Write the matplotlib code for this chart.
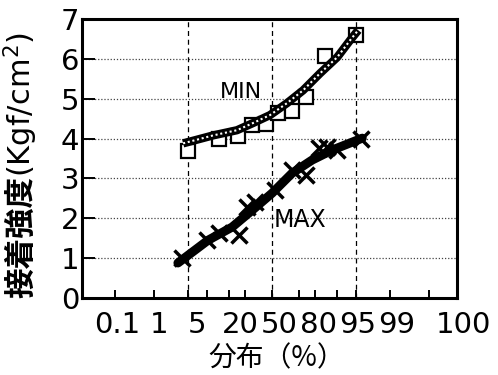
from statistics import NormalDist
import numpy as np
import matplotlib
matplotlib.use("Agg")
import matplotlib.pyplot as plt
import matplotlib.transforms as mtransforms

plt.rcParams['font.family'] = ['DejaVu Sans', 'Noto Sans CJK JP']

# cumulative percentage (%) and strength (Kgf/cm2)
min_pct = [5, 15, 25, 35, 45, 55, 65, 75, 85, 95]
min_val = [3.68, 3.98, 4.06, 4.34, 4.36, 4.64, 4.69, 5.04, 6.07, 6.59]
min_fit_pct = [4.0, 12.3, 24.5, 35.4, 48.4, 61.6, 72.9, 82.8, 90.0, 93.8, 95.5]
min_fit_val = [3.88, 4.08, 4.21, 4.39, 4.59, 4.89, 5.21, 5.64, 6.04, 6.47, 6.72]

max_pct = [3.8, 10, 15, 26, 31, 37, 52, 65, 75, 82, 86, 90, 96]
max_val = [1.0, 1.45, 1.63, 1.58, 2.28, 2.40, 2.72, 3.20, 3.08, 3.76, 3.78, 3.72, 4.0]
max_fit_pct = [3.2, 10.4, 21.6, 34.7, 50, 65.3, 78.4, 88.1, 96.2]
max_fit_val = [0.88, 1.45, 1.78, 2.20, 2.63, 3.13, 3.46, 3.71, 4.01]

tick_pct = [0.1, 1, 5, 10, 20, 30, 50, 70, 80, 90, 95, 99, 99.9]
label_pct = [0.1, 1, 5, 20, 50, 80, 95, 99, 99.9]
label_txt = ['0.1', '1', '5', '20', '50', '80', '95', '99', '100']
label_shift = [2, 5, 9, 11, 7, 4, 2, 6, 34]  # px, as drawn in the original
vgrid_pct = [5, 50, 95]

ND = NormalDist()


def prob_fwd(p):
    p = np.clip(np.asarray(p, dtype=float) / 100.0, 1e-12, 1 - 1e-12)
    return np.vectorize(ND.inv_cdf, otypes=[float])(p)


def prob_inv(z):
    return 100.0 * np.vectorize(ND.cdf, otypes=[float])(np.asarray(z, dtype=float))


fig = plt.figure(figsize=(4.98, 3.75), dpi=100)
ax = fig.add_axes([0.1647, 0.2053, 0.753, 0.744])
ax.set_xscale('function', functions=(prob_fwd, prob_inv))
ax.set_xlim(prob_inv(-3.74), prob_inv(3.64))
ax.set_ylim(0, 7)

# grid
for y in range(1, 7):
    ax.axhline(y, color='#444444', lw=0.9, ls=(0, (1, 1.5)), zorder=1)
for p in vgrid_pct:
    ax.axvline(p, color='black', lw=0.9, ls=(0, (4, 3)), zorder=1)

# MIN
ax.plot(min_pct, min_val, ls='none', marker='s', ms=10.5, mfc='white', mec='black',
        mew=1.6, zorder=3)
ax.plot(min_fit_pct, min_fit_val, color='black', lw=6, solid_capstyle='butt', zorder=4)
ax.plot(min_fit_pct, min_fit_val, color='white', lw=1.5, ls=(0, (1, 1.3)), zorder=5)

# MAX
ax.plot(max_fit_pct, max_fit_val, color='black', lw=6.5, solid_capstyle='round', zorder=4)
ax.plot(max_pct, max_val, ls='none', marker='x', ms=11, mec='black', mew=2.5, zorder=5)

ax.text(27, 5.16, 'MIN', fontsize=16, ha='center', va='center')
ax.text(71, 1.95, 'MAX', fontsize=17, ha='center', va='center')

# axes styling
for s in ax.spines.values():
    s.set_linewidth(2.2)
ax.xaxis.set_major_locator(matplotlib.ticker.FixedLocator(tick_pct))
ax.xaxis.set_minor_locator(matplotlib.ticker.NullLocator())
ax.set_xticklabels([])
ax.set_yticks(range(0, 8))
ax.tick_params(axis='x', direction='in', length=6, width=1.4, bottom=True, top=False)
ax.tick_params(axis='y', direction='in', length=9, width=1.4, left=True, right=False,
               labelsize=21, pad=2)

trans = mtransforms.blended_transform_factory(ax.transData, ax.transAxes)
for p, t, dx in zip(label_pct, label_txt, label_shift):
    off = mtransforms.ScaledTranslation(dx / 100.0, 0, fig.dpi_scale_trans)
    ax.text(p, -0.045, t, transform=trans + off, fontsize=21, ha='center', va='top',
            clip_on=False)

# y label: bold kanji + regular unit part
fig.text(21 / 498, 1 - 298 / 375, '接着強度', rotation=90, fontsize=22,
         family=['Noto Sans CJK JP'], fontweight='bold', ha='center', va='bottom')
fig.text(21 / 498, 1 - 177 / 375, '(Kgf/cm$^2$)', rotation=90, fontsize=22,
         ha='center', va='bottom')
fig.text(277 / 498, 1 - 358 / 375, '分布（%）', family=['Noto Sans CJK JP', 'DejaVu Sans'],
         fontsize=20, ha='center', va='center')

fig.savefig('out.png', dpi=100)
